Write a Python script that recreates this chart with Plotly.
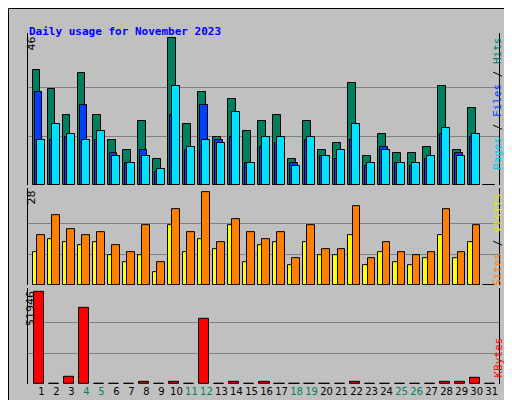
import plotly.graph_objects as go

days = list(range(1, 32))
weekend = [4, 5, 11, 12, 18, 19, 25, 26]

hits = [36, 30, 22, 35, 22, 14, 11, 20, 8, 46, 19, 29, 15, 27, 17, 20,
        22, 8, 20, 11, 13, 32, 9, 16, 10, 10, 12, 31, 11, 24, 0]
files = [29, 14, 15, 25, 14, 10, 7, 11, 4, 22, 11, 25, 14, 15, 7, 12,
         13, 7, 14, 9, 8, 14, 6, 12, 7, 6, 8, 16, 10, 15, 0]
pages = [14, 19, 16, 14, 17, 9, 7, 9, 5, 31, 12, 14, 13, 23, 7, 15,
         15, 6, 15, 9, 11, 19, 7, 11, 7, 7, 9, 18, 9, 16, 0]
sites = [10, 14, 13, 12, 13, 9, 7, 9, 4, 18, 10, 14, 11, 18, 7, 12,
         13, 6, 13, 9, 9, 15, 6, 10, 7, 6, 8, 15, 8, 13, 0]
visits = [15, 21, 17, 15, 16, 12, 10, 18, 7, 23, 16, 28, 13, 20, 16, 14,
          16, 8, 18, 11, 11, 24, 8, 13, 10, 9, 10, 23, 10, 18, 0]
kbytes = [51946, 300, 4160, 42690, 300, 300, 300, 1200, 300, 1200, 300, 36460, 300, 1200, 300, 1200,
          300, 300, 300, 300, 300, 1200, 300, 300, 300, 300, 300, 1200, 1200, 3590, 0]

tick_text = [f"<span style='color:#008060'>{d}</span>" if d in weekend else str(d) for d in days]

W, H = 512, 400
L, R, T, B = 20, 21, 25, 24
PW, PH = W - L - R, H - T - B


def px(x):
    return (x - L) / PW


def py(y):
    return (H - B - y) / PH


fig = go.Figure()


def bar(y, color, off, width, axis):
    fig.add_trace(go.Bar(x=days, y=y, offset=off, width=width, marker_color=color,
                         marker_line_color='black', marker_line_width=1,
                         xaxis='x', yaxis=axis, showlegend=False, hoverinfo='y'))


bar(hits, '#007f5f', -0.55, 0.49, 'y')
bar(files, '#0040ff', -0.42, 0.49, 'y')
bar(pages, '#00e0ff', -0.29, 0.51, 'y')
bar(sites, '#ffff00', -0.55, 0.29, 'y2')
bar(visits, '#ff8000', -0.27, 0.49, 'y2')
bar(kbytes, '#ff0000', -0.47, 0.67, 'y3')

grid = dict(showticklabels=False, gridcolor='#808080', gridwidth=1, zeroline=False,
            showline=True, linecolor='black', mirror=True, fixedrange=True)

# outer frame with shadow
shapes = [
    dict(type='rect', xref='paper', yref='paper', x0=px(6), x1=px(512), y0=py(400), y1=py(6),
         fillcolor='#808080', line_width=0, layer='below'),
    dict(type='rect', xref='paper', yref='paper', x0=px(0.5), x1=px(505), y0=py(394), y1=py(0.5),
         fillcolor='#c0c0c0', line=dict(color='black', width=1), layer='below'),
]

mono = 'DejaVu Sans Mono'
ann = [
    dict(text='<b>Daily usage for November 2023</b>', x=px(19), y=py(15), xanchor='left',
         font=dict(family=mono, size=11, color='#0000ff')),
    dict(text='46', x=px(14), y=py(27), yanchor='top', textangle=-90, font=dict(size=11, color='black')),
    dict(text='28', x=px(14), y=py(181), yanchor='top', textangle=-90, font=dict(size=11, color='black')),
    dict(text='51946', x=px(14), y=py(281), yanchor='top', textangle=-90, font=dict(size=11, color='black')),
    dict(text="<span style='color:#00c8e8'>Pages</span> / <span style='color:#0040ff'>Files</span> / "
              "<span style='color:#007f5f'>Hits</span>",
         x=px(498), y=py(27), yanchor='top', textangle=-90, font=dict(family=mono, size=11, color='black')),
    dict(text="<span style='color:#ff8000'>Sites</span> / <span style='color:#e8e800'>Visits</span>",
         x=px(498), y=py(183), yanchor='top', textangle=-90, font=dict(family=mono, size=11, color='black')),
    dict(text="<span style='color:#ff0000'>KBytes</span>",
         x=px(498), y=py(372), yanchor='bottom', textangle=-90, font=dict(family=mono, size=11)),
]
for a in ann:
    a.update(xref='paper', yref='paper', showarrow=False)

fig.update_layout(
    width=W, height=H, margin=dict(l=L, r=R, t=T, b=B),
    paper_bgcolor='white', plot_bgcolor='#c0c0c0', barmode='overlay',
    font=dict(family='DejaVu Sans', size=11, color='black'),
    xaxis=dict(range=[0.11, 31.49], tickvals=days, ticktext=tick_text, showgrid=False,
               ticks='', showline=False, zeroline=False, anchor='y3', fixedrange=True,
               tickangle=0, tickfont=dict(size=10)),
    yaxis=dict(domain=[0.567, 1], range=[0, 47.6], tickvals=[46 / 3, 92 / 3], **grid),
    yaxis2=dict(domain=[0.282, 0.558], range=[0, 29.3], tickvals=[28 / 3, 56 / 3], **grid),
    yaxis3=dict(domain=[0, 0.274], range=[0, 54040], tickvals=[51946 / 3, 103892 / 3], **grid),
    shapes=shapes, annotations=ann, bargap=0,
)

fig.write_html("out.html")
